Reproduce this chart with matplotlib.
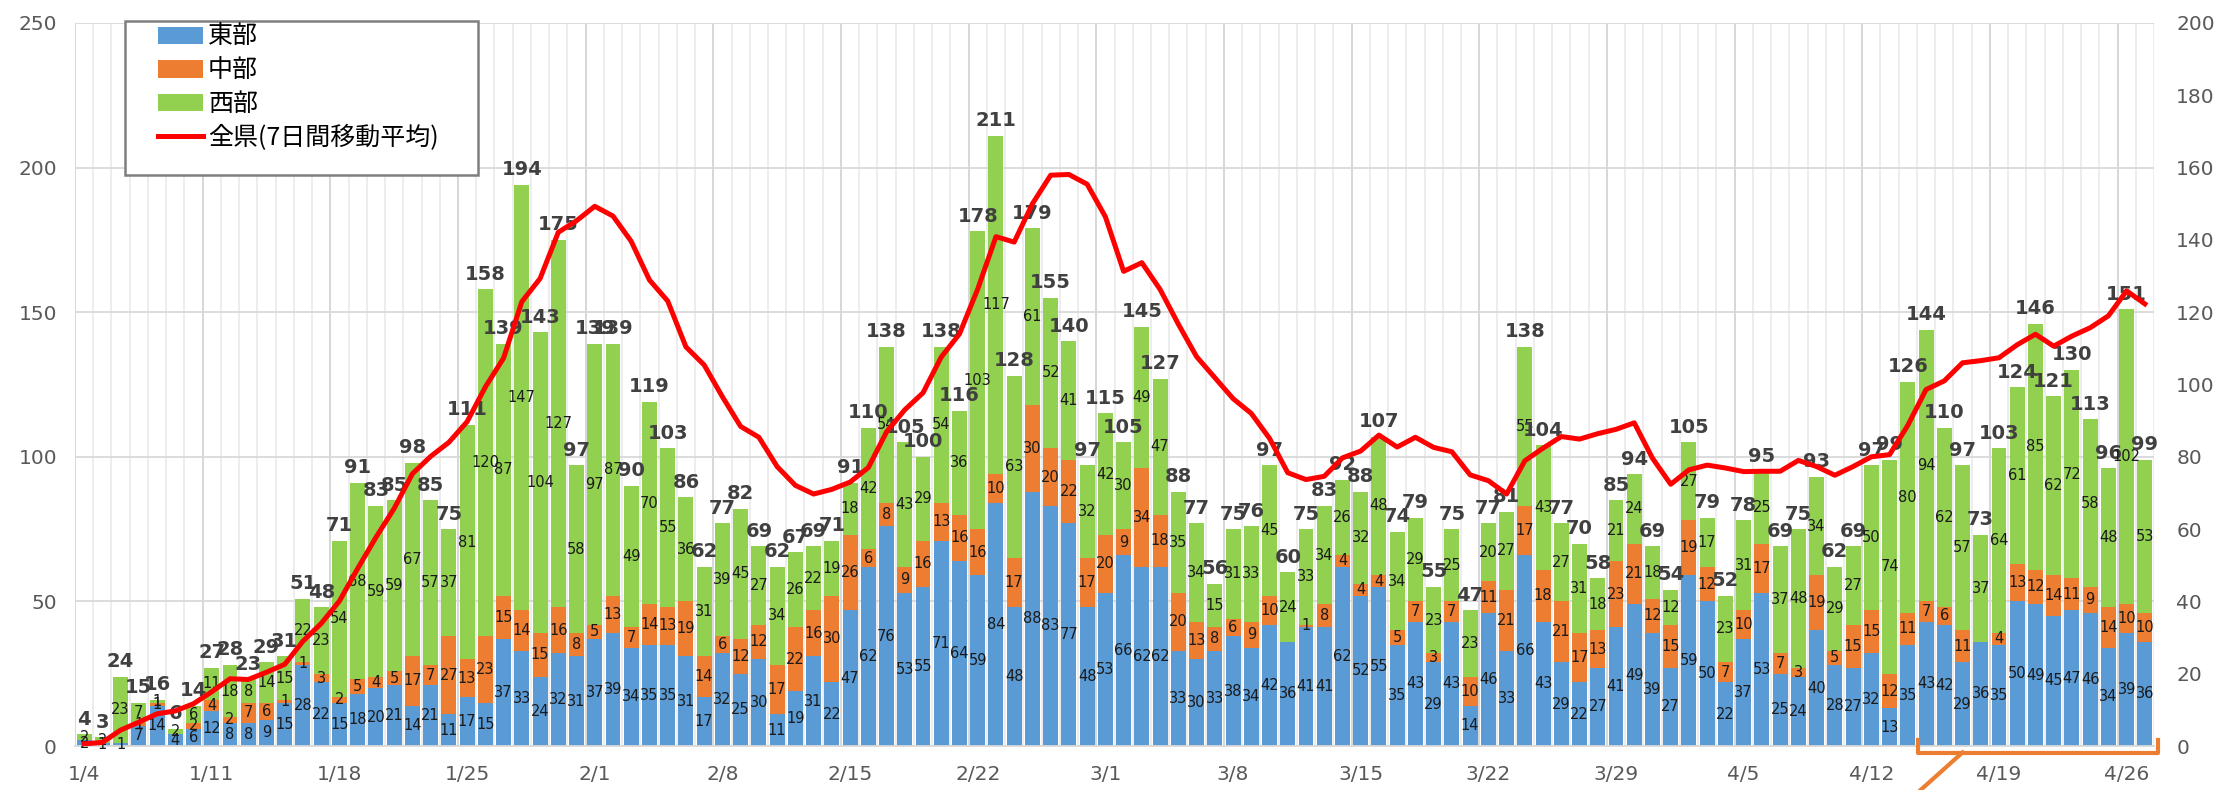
import numpy as np
import matplotlib.pyplot as plt
from matplotlib import transforms
from matplotlib.patches import Rectangle

plt.rcParams['font.family'] = ['DejaVu Sans', 'Noto Sans CJK JP']

# daily cases, 1/4 .. 4/27 (one row per week, Mon..Sun)
east = [2, 1, 1, 7, 14, 4, 6,
        12, 8, 8, 9, 15, 28, 22,
        15, 18, 20, 21, 14, 21, 11,
        17, 15, 37, 33, 24, 32, 31,
        37, 39, 34, 35, 35, 31, 17,
        32, 25, 30, 11, 19, 31, 22,
        47, 62, 76, 53, 55, 71, 64,
        59, 84, 48, 88, 83, 77, 48,
        53, 66, 62, 62, 33, 30, 33,
        38, 34, 42, 36, 41, 41, 62,
        52, 55, 35, 43, 29, 43, 14,
        46, 33, 66, 43, 29, 22, 27,
        41, 49, 39, 27, 59, 50, 22,
        37, 53, 25, 24, 40, 28, 27,
        32, 13, 35, 43, 42, 29, 36,
        35, 50, 49, 45, 47, 46, 34,
        39, 36]
central = [0, 0, 0, 1, 1, 0, 2,
           4, 2, 7, 6, 1, 1, 3,
           2, 5, 4, 5, 17, 7, 27,
           13, 23, 15, 14, 15, 16, 8,
           5, 13, 7, 14, 13, 19, 14,
           6, 12, 12, 17, 22, 16, 30,
           26, 6, 8, 9, 16, 13, 16,
           16, 10, 17, 30, 20, 22, 17,
           20, 9, 34, 18, 20, 13, 8,
           6, 9, 10, 0, 1, 8, 4,
           4, 4, 5, 7, 3, 7, 10,
           11, 21, 17, 18, 21, 17, 13,
           23, 21, 12, 15, 19, 12, 7,
           10, 17, 7, 3, 19, 5, 15,
           15, 12, 11, 7, 6, 11, 0,
           4, 13, 12, 14, 11, 9, 14,
           10, 10]
west = [2, 2, 23, 7, 1, 2, 6,
        11, 18, 8, 14, 15, 22, 23,
        54, 68, 59, 59, 67, 57, 37,
        81, 120, 87, 147, 104, 127, 58,
        97, 87, 49, 70, 55, 36, 31,
        39, 45, 27, 34, 26, 22, 19,
        18, 42, 54, 43, 29, 54, 36,
        103, 117, 63, 61, 52, 41, 32,
        42, 30, 49, 47, 35, 34, 15,
        31, 33, 45, 24, 33, 34, 26,
        32, 48, 34, 29, 23, 25, 23,
        20, 27, 55, 43, 27, 31, 18,
        21, 24, 18, 12, 27, 17, 23,
        31, 25, 37, 48, 34, 29, 27,
        50, 74, 80, 94, 62, 57, 37,
        64, 61, 85, 62, 72, 58, 48,
        102, 53]
# 7-day moving average (right axis)
ma7 = [0.6, 1.0, 4.4, 6.6, 8.9, 9.7, 11.7,
       15.0, 18.6, 18.4, 20.4, 22.6, 29.0, 33.9,
       40.1, 49.1, 57.7, 65.7, 75.3, 80.1, 84.0,
       89.7, 99.3, 107.3, 122.9, 129.3, 142.1, 145.3,
       149.3, 146.6, 139.6, 128.9, 123.1, 110.4, 105.4,
       96.6, 88.4, 85.4, 77.3, 72.1, 69.7, 71.0,
       73.0, 77.0, 86.9, 93.0, 97.7, 107.6, 114.0,
       126.4, 140.9, 139.4, 150.0, 157.9, 158.1, 155.4,
       146.4, 131.3, 133.7, 126.3, 116.7, 107.7, 101.9,
       96.1, 92.0, 85.1, 75.6, 73.7, 74.6, 79.7,
       81.6, 86.0, 82.7, 85.4, 82.6, 81.4, 75.0,
       73.4, 69.7, 78.9, 82.4, 85.6, 84.9, 86.4,
       87.6, 89.4, 79.6, 72.4, 76.4, 77.7, 76.9,
       75.9, 76.0, 76.0, 79.0, 77.3, 74.9, 77.3,
       80.0, 80.6, 88.7, 98.6, 101.0, 106.0, 106.6,
       107.4, 111.0, 113.9, 110.6, 113.4, 115.7, 119.0,
       125.9, 122.3]
week_labels = ['1/4', '1/11', '1/18', '1/25', '2/1', '2/8', '2/15', '2/22',
               '3/1', '3/8', '3/15', '3/22', '3/29', '4/5', '4/12', '4/19', '4/26']
series_names = ['東部', '中部', '西部', '全県(7日間移動平均)']

W, H = 2225, 790
fig = plt.figure(figsize=(W / 100, H / 100), dpi=100)
ax = fig.add_axes([75 / W, 1 - 746 / H, (2154 - 75) / W, (746 - 23) / H])

x = np.arange(len(east))
e = np.array(east)
c = np.array(central)
w = np.array(west)
tot = e + c + w

b1 = ax.bar(x, e, 0.82, color='#5B9BD5', zorder=2)
b2 = ax.bar(x, c, 0.82, bottom=e, color='#ED7D31', zorder=2)
b3 = ax.bar(x, w, 0.82, bottom=e + c, color='#92D050', zorder=2)

ax.set_xlim(-0.5, len(x) - 0.5)
ax.set_ylim(0, 250)
ax.set_yticks(range(0, 251, 50))
ax.yaxis.grid(True, color='#d9d9d9', lw=1.3, zorder=0)
for bnd in np.arange(-0.5, len(x)):
    weekly = int(bnd + 0.5) % 7 == 0
    ax.axvline(bnd, color='#d4d4d4' if weekly else '#ececec', lw=1.3, zorder=0)

ax.set_xticks(np.arange(0, len(x), 7))
ax.set_xticklabels(week_labels)
for s in ['top', 'left', 'right']:
    ax.spines[s].set_visible(False)
ax.spines['bottom'].set_color('#d9d9d9')
ax.spines['bottom'].set_linewidth(1.3)
ax.tick_params(axis='x', length=0, pad=14, labelsize=14.5, labelcolor='#595959')
ax.tick_params(axis='y', length=0, pad=13, labelsize=14.5, labelcolor='#595959')

# segment labels and totals
for i in range(len(x)):
    base = 0
    for v in (e[i], c[i], w[i]):
        if v > 0:
            ax.text(i, base + v / 2, str(v), ha='center', va='center',
                    fontsize=10.5, color='#1a1a1a', zorder=5)
        base += v
    ax.annotate(str(tot[i]), (i, tot[i]), xytext=(0, 4), textcoords='offset points',
                ha='center', va='bottom', fontsize=14, fontweight='bold',
                color='#404040', zorder=5)

ax2 = ax.twinx()
ln, = ax2.plot(x, ma7, color='#FF0000', lw=3.6, solid_joinstyle='round')
ax2.set_ylim(0, 200)
ax2.set_yticks(range(0, 201, 20))
for s in ax2.spines.values():
    s.set_visible(False)
ax2.tick_params(axis='y', length=0, pad=16, labelsize=14.5, labelcolor='#595959')

# orange bracket under the last two weeks
tr = transforms.blended_transform_factory(ax.transData, ax.transAxes)
bx0, bx1 = 100.55, 113.7
ax.plot([bx0, bx0, bx1, bx1], [0.008, -0.009, -0.009, 0.008], color='#ED7D31',
        lw=3, transform=tr, clip_on=False, zorder=6, solid_joinstyle='round')
ax.plot([103.0, 100.65], [-0.009, -0.062], color='#ED7D31', lw=3,
        transform=tr, clip_on=False, zorder=6)

# legend box
fig.patches.append(Rectangle((125 / W, 1 - 175 / H), 353 / W, 154 / H,
                             transform=fig.transFigure, fc='white',
                             ec='#7f7f7f', lw=1.8, zorder=3))
fig.legend([b1, b2, b3, ln], series_names, loc='upper left',
           bbox_to_anchor=(158 / W, 1 - 24 / H), frameon=False,
           prop={'family': 'Noto Sans CJK JP', 'size': 18},
           handlelength=1.8, handleheight=0.7, handletextpad=0.2,
           borderpad=0, borderaxespad=0, labelspacing=0.3)

fig.savefig('out.png', dpi=100)
